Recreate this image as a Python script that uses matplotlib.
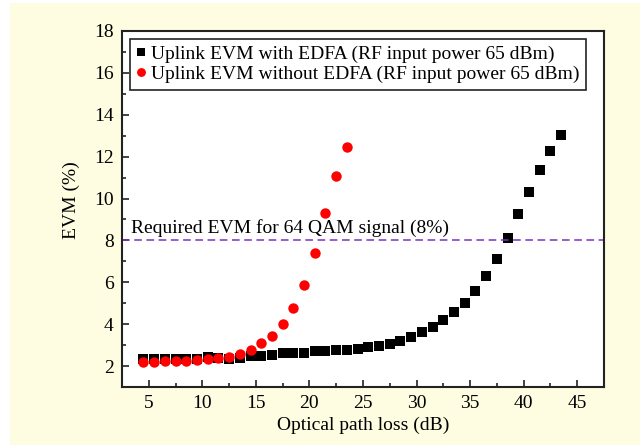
import matplotlib
matplotlib.use('Agg')
import matplotlib.pyplot as plt
from matplotlib.patches import Rectangle
from matplotlib.ticker import MultipleLocator

# optical path loss (dB) and EVM (%) for the two uplink cases
loss_edfa = [4.5, 5.5, 6.5, 7.5, 8.5, 9.5, 10.5, 11.5, 12.5, 13.5,
             14.5, 15.5, 16.5, 17.5, 18.5, 19.5, 20.5, 21.5, 22.5, 23.5,
             24.5, 25.5, 26.5, 27.5, 28.5, 29.5, 30.5, 31.5, 32.5, 33.5,
             34.5, 35.5, 36.5, 37.5, 38.5, 39.5, 40.5, 41.5, 42.5, 43.5]
evm_edfa = [2.33, 2.33, 2.33, 2.33, 2.33, 2.35, 2.43, 2.40, 2.36, 2.37,
            2.50, 2.50, 2.52, 2.60, 2.60, 2.60, 2.70, 2.70, 2.78, 2.77,
            2.82, 2.90, 2.98, 3.05, 3.22, 3.40, 3.62, 3.88, 4.20, 4.56,
            5.02, 5.58, 6.30, 7.13, 8.13, 9.24, 10.32, 11.36, 12.27, 13.03]

loss_no_edfa = [4.5, 5.5, 6.5, 7.5, 8.5, 9.5, 10.5, 11.5, 12.5, 13.5,
                14.5, 15.5, 16.5, 17.5, 18.5, 19.5, 20.5, 21.5, 22.5, 23.5]
evm_no_edfa = [2.21, 2.21, 2.24, 2.24, 2.24, 2.29, 2.32, 2.37, 2.45, 2.57,
               2.76, 3.08, 3.45, 4.00, 4.77, 5.87, 7.38, 9.32, 11.07, 12.47]

evm_limit = 8

plt.rcParams['font.family'] = ['Liberation Serif', 'DejaVu Serif']
plt.rcParams['font.size'] = 14

fig = plt.figure(figsize=(6.43, 4.46), dpi=100)
fig.patches.append(Rectangle((10 / 643, 1 / 446), 630 / 643, 442 / 446,
                             transform=fig.transFigure, facecolor='#FEFDE2',
                             edgecolor='none', zorder=-10))
ax = fig.add_axes([0.1897, 0.1323, 0.7496, 0.7982])

ax.plot(loss_edfa, evm_edfa, 's', color='black', ms=6.5, mew=0,
        label='Uplink EVM with EDFA (RF input power 65 dBm)')
ax.plot(loss_no_edfa, evm_no_edfa, 'o', color='#FF0000', ms=7.5, mew=0,
        label='Uplink EVM without EDFA (RF input power 65 dBm)')

ax.axhline(evm_limit, color='#7A30C8', lw=1.1, ls=(0, (5, 3)))
ax.text(3.3, evm_limit + 0.15, 'Required EVM for 64 QAM signal (8%)',
        ha='left', va='bottom', fontsize=14)

ax.set_xlim(2.5, 47.5)
ax.set_ylim(1, 18)
ax.xaxis.set_major_locator(MultipleLocator(5))
ax.xaxis.set_minor_locator(MultipleLocator(2.5))
ax.yaxis.set_major_locator(MultipleLocator(2))
ax.yaxis.set_minor_locator(MultipleLocator(1))
ax.tick_params(which='both', direction='in', top=False, right=False,
               width=1.2, color='#222222')
ax.tick_params(which='major', length=5, pad=6)
ax.tick_params(which='minor', length=3)
for s in ax.spines.values():
    s.set_linewidth(1.5)
    s.set_color('#222222')

ax.set_xlabel('Optical path loss (dB)', fontsize=14, labelpad=3)
ax.set_ylabel('EVM (%)', fontsize=14)
ax.yaxis.set_label_coords(-0.087, 0.525)

leg = ax.legend(loc='upper left', fontsize=14, handlelength=0.45,
                handletextpad=0.3, borderpad=0.35, labelspacing=0.12,
                borderaxespad=0.4, fancybox=False, framealpha=1,
                markerscale=0.85)
leg.get_frame().set_edgecolor('#222222')
leg.get_frame().set_linewidth(1.2)

fig.savefig('out.png', dpi=100)
